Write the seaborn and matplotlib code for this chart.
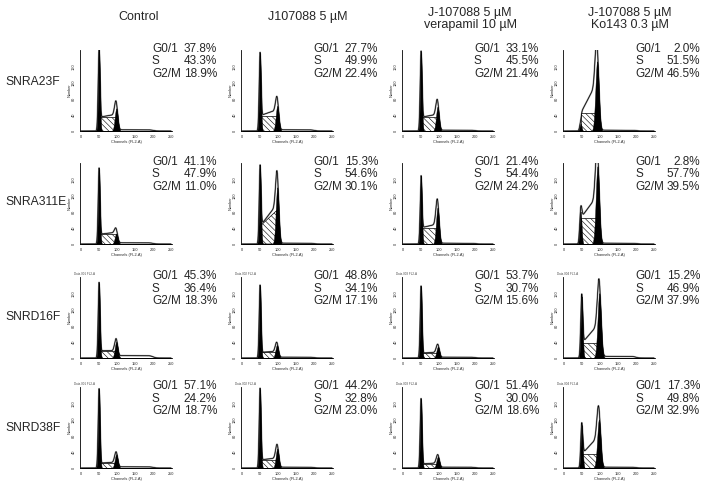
import numpy as np
import pandas as pd
import matplotlib
matplotlib.use('Agg')
import matplotlib.pyplot as plt
import seaborn as sns

# nombres de las condiciones (columnas) y lineas celulares (filas)
conditions = ['Control', 'J107088 5 µM', 'J-107088 5 µM\nverapamil 10 µM', 'J-107088 5 µM\nKo143 0.3 µM']
cell_lines = ['SNRA23F', 'SNRA311E', 'SNRD16F', 'SNRD38F']

# porcentajes de ciclo celular, filas = lineas celulares, columnas = condiciones
g01_pct = [[37.8, 27.7, 33.1, 2.0],
           [41.1, 15.3, 21.4, 2.8],
           [45.3, 48.8, 53.7, 15.2],
           [57.1, 44.2, 51.4, 17.3]]
s_pct = [[43.3, 49.9, 45.5, 51.5],
         [47.9, 54.6, 54.4, 57.7],
         [36.4, 34.1, 30.7, 46.9],
         [24.2, 32.8, 30.0, 49.8]]
g2m_pct = [[18.9, 22.4, 21.4, 46.5],
           [11.0, 30.1, 24.2, 39.5],
           [18.3, 17.1, 15.6, 37.9],
           [18.7, 23.0, 18.6, 32.9]]

# lectura aproximada de los histogramas (canal de cada pico y altura relativa)
g1_pos = [[50, 50, 50, 46], [50, 50, 50, 46], [50, 50, 50, 49], [50, 50, 50, 49]]
g2_pos = [[98, 98, 96, 92], [98, 98, 96, 93], [98, 97, 97, 98], [98, 98, 97, 97]]
g1_height = [[1.00, 0.94, 0.96, 0.09],
             [0.92, 0.94, 0.81, 0.40],
             [0.92, 0.89, 0.88, 0.76],
             [0.97, 0.97, 0.85, 0.53]]
g2_height = [[0.28, 0.31, 0.30, 0.86],
             [0.13, 0.70, 0.45, 0.96],
             [0.20, 0.16, 0.14, 0.80],
             [0.17, 0.24, 0.14, 0.60]]
s_start = [[0.17, 0.19, 0.17, 0.22],
           [0.12, 0.22, 0.20, 0.32],
           [0.09, 0.07, 0.06, 0.18],
           [0.06, 0.10, 0.05, 0.17]]
s_end = [[0.20, 0.25, 0.20, 0.54],
         [0.14, 0.45, 0.24, 0.55],
         [0.09, 0.08, 0.07, 0.39],
         [0.07, 0.12, 0.06, 0.36]]
hatch_end = [[0.17, 0.19, 0.17, 0.22],
             [0.12, 0.42, 0.20, 0.32],
             [0.09, 0.07, 0.06, 0.18],
             [0.06, 0.10, 0.05, 0.17]]
tail_level = [[0.015, 0.015, 0.010, 0.010],
              [0.015, 0.010, 0.010, 0.010],
              [0.030, 0.010, 0.010, 0.020],
              [0.015, 0.010, 0.010, 0.010]]

sns.set_style('white')
plt.rcParams['font.family'] = ['Liberation Sans', 'DejaVu Sans']
plt.rcParams['hatch.linewidth'] = 0.4

W, H = 718, 483
fig = plt.figure(figsize=(W / 100, H / 100), dpi=100)


def px(x, y):
    return x / W, 1 - y / H


def sig(z):
    return 1 / (1 + np.exp(-z))


col_left = [80, 241, 402, 563]
row_bottom = [131, 244, 358, 468]
ax_w, ax_h = 92, 81
title_x = [139, 308, 470, 630]
label_y = [82, 202, 317, 428]

x = np.linspace(0, 250, 1001)

for c, cond in enumerate(conditions):
    fig.text(*px(title_x[c], 19 if '\n' in cond else 17), cond, ha='center', va='center',
             fontsize=9, linespacing=1.1)

for r, line in enumerate(cell_lines):
    fig.text(*px(5, label_y[r]), line, ha='left', va='center', fontsize=8.7)
    for c in range(4):
        left, bottom = col_left[c], row_bottom[r]
        ax = fig.add_axes([left / W, 1 - bottom / H, ax_w / W, ax_h / H])

        p1, p2 = g1_pos[r][c], g2_pos[r][c]
        sd1 = 2.5 if c < 3 else 2.7
        sd2 = 4.2 if c < 3 else 4.8
        g1 = g1_height[r][c] * np.exp(-0.5 * ((x - p1) / sd1) ** 2)
        g2 = g2_height[r][c] * np.exp(-0.5 * ((x - p2) / sd2) ** 2)
        t = np.clip((x - p1) / (p2 - p1 - 8), 0, 1)
        s_comp = (s_start[r][c] + (s_end[r][c] - s_start[r][c]) * t) \
            * sig((x - p1 - 2) / 1.2) * sig((p2 - x - 1) / 2.5)
        tail = tail_level[r][c] * sig((x - p2 - 8) / 2) * sig((200 - x) / 4)
        total = g1 + g2 + s_comp + tail

        df = pd.DataFrame({'canal': x, 'cuentas': total})
        # contorno gris debajo de los rellenos
        sns.lineplot(data=df, x='canal', y='cuentas', ax=ax, color='0.6', lw=1.2, zorder=1)

        th = np.clip((x - p1) / (p2 - p1), 0, 1)
        hatch_top = s_start[r][c] + (hatch_end[r][c] - s_start[r][c]) * th
        in_s = (x >= p1 + 1) & (x <= p2 - 2)
        ax.fill_between(x, 0, hatch_top, where=in_s, facecolor='white', edgecolor='black',
                        hatch='\\\\\\\\\\\\', lw=0.5, zorder=2)
        ax.fill_between(x, 0, g1, color='black', lw=0.3, zorder=3)
        ax.fill_between(x, 0, g2, color='black', lw=0.3, zorder=3)

        sns.lineplot(data=df, x='canal', y='cuentas', ax=ax, color='black', lw=0.5, zorder=4)

        ax.set_xlim(-3, 253)
        ax.set_ylim(0, 1.0)
        for sp in ['top', 'right']:
            ax.spines[sp].set_visible(False)
        for sp in ['left', 'bottom']:
            ax.spines[sp].set_linewidth(0.6)
            ax.spines[sp].set_color('black')
        ax.set_xticks([0, 50, 100, 150, 200, 250])
        ax.set_xticks(np.arange(0, 251, 10), minor=True)
        ax.set_yticks([0, 0.2, 0.4, 0.6, 0.8])
        ax.set_yticklabels(['0', '40', '80', '120', '160'], rotation=90, va='center')
        ax.set_yticks(np.arange(0, 1.0, 0.04), minor=True)
        ax.tick_params(axis='both', which='major', length=2, width=0.5, labelsize=2.8,
                       pad=1, direction='out')
        ax.tick_params(axis='both', which='minor', length=1.2, width=0.4)
        ax.set_xlabel('Channels (FL2-A)', fontsize=2.8, labelpad=0.8)
        ax.set_ylabel('Number', fontsize=2.8, labelpad=0.2)
        ax.patch.set_alpha(0)

        if r >= 2:
            fig.text(*px(left - 6, bottom - ax_h - 3), 'Data.00' + str(c + 1) + ' FL2-A',
                     fontsize=2.2, color='0.3', ha='left', va='center')

        # texto con los porcentajes
        vals = [g01_pct[r][c], s_pct[r][c], g2m_pct[r][c]]
        for k, (lab, v) in enumerate(zip(['G0/1', 'S', 'G2/M'], vals)):
            yy = bottom - 82 + 12.5 * k
            fig.text(*px(left + 72, yy), lab, ha='left', va='center', fontsize=8.5)
            fig.text(*px(left + 137, yy), f'{v:.1f}%', ha='right', va='center', fontsize=8.5)

plt.savefig('out.png', dpi=100)
